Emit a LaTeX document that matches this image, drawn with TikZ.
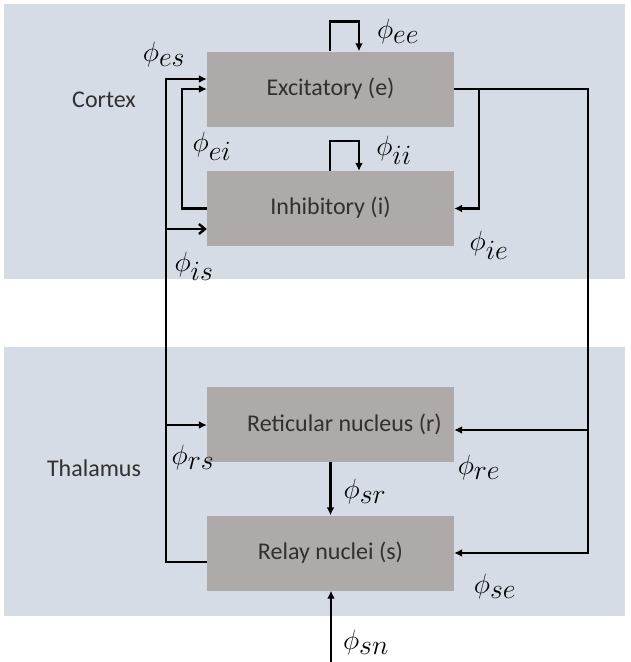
\documentclass[tikz,border=0pt]{standalone}
\usepackage{graphicx}
\usepackage[no-math]{fontspec}
\setmainfont{Carlito}
\usetikzlibrary{arrows.meta}
\definecolor{bandcol}{HTML}{D6DCE5}
\definecolor{boxcol}{HTML}{AEAAAA}
\definecolor{txtcol}{HTML}{303030}
\newcommand\phlab[1]{\scalebox{1.12}{$\phi_{\textstyle #1}$}}
\begin{document}
\begin{tikzpicture}[x=1pt,y=-1pt,
  box/.style={rectangle, fill=boxcol, minimum width=247pt, minimum height=75pt,
    inner sep=0pt, font=\fontsize{24}{28}\selectfont, text=txtcol},
  arr/.style={line width=2.6pt, -{Latex[length=8pt,width=8pt]}},
  barb/.style={line width=2.6pt, -{Straight Barb[length=6pt,width=10pt,line width=2.4pt]}},
  lab/.style={font=\fontsize{24.88}{30}\selectfont, inner sep=0pt},
  region/.style={font=\fontsize{24}{28}\selectfont, text=txtcol, inner sep=0pt}]
\useasboundingbox (0,0) rectangle (630,662);
% bands
\fill[bandcol] (4,4) rectangle (625,279);
\fill[bandcol] (4,347) rectangle (625,616);
\node[region] (cortex) at (104,100) {Cortex};
\node[region] (thal) at (94,468) {Thalamus};
% boxes
\node[box] (e) at (330.5,89) {\raisebox{3pt}{Excitatory (e)}};
\node[box] (i) at (330.5,208.5) {\raisebox{6pt}{Inhibitory (i)}};
\node[box] (r) at (330.5,424.5) {\hspace*{28pt}\raisebox{-5pt}{Reticular nucleus (r)}};
\node[box] (s) at (330.5,553) {\raisebox{-4pt}{Relay nuclei (s)}};
% helper coordinates
\coordinate (sL) at (166,562);
\coordinate (eL) at (166,79);
\coordinate (iL) at (166,229);
\coordinate (rL) at (166,425);
\coordinate (eR) at (588,89);
\coordinate (eB) at (479,89);
\coordinate (snIn) at (331,662);
% left side
\draw[arr] ([yshift=-9pt]s.west) -- (sL) -- (eL) -- (e.west |- eL);
\draw[barb] (iL) -- (i.west |- iL);
\draw[arr] (rL) -- (r.west |- rL);
\draw[arr] (i.west) -- ++(-25,0) |- (e.west);
% right side
\draw[arr] (e.east) -- (eR) |- (s.east);
\draw[arr] (eB) |- (i.east);
\draw[arr] (eR |- 0,430) -- (r.east |- 0,430);
% self loops
\draw[arr] ([xshift=-0.5pt]e.north) -- ++(0,-30) -| ([xshift=28.5pt]e.north);
\draw[arr] ([xshift=-0.5pt]i.north) -- ++(0,-30) -| ([xshift=28.5pt]i.north);
% thalamic
\draw[arr] (r.south) -- (s.north);
\draw[arr] (snIn) -- (snIn |- s.south);
% labels
\node[lab] (lee) at (398,32) {\phlab{ee}};
\node[lab] (les) at (164,55) {\phlab{es}};
\node[lab] (lei) at (212,146) {\phlab{ei}};
\node[lab] (lii) at (394,150) {\phlab{ii}};
\node[lab] (lie) at (489,245) {\phlab{ie}};
\node[lab] (lis) at (194,266) {\phlab{is}};
\node[lab] (lrs) at (193,458) {\phlab{rs}};
\node[lab] (lre) at (479,468) {\phlab{re}};
\node[lab] (lsr) at (365,492) {\phlab{sr}};
\node[lab] (lse) at (495,587) {\phlab{se}};
\node[lab] (lsn) at (366,643) {\phlab{sn}};
\end{tikzpicture}
\end{document}
